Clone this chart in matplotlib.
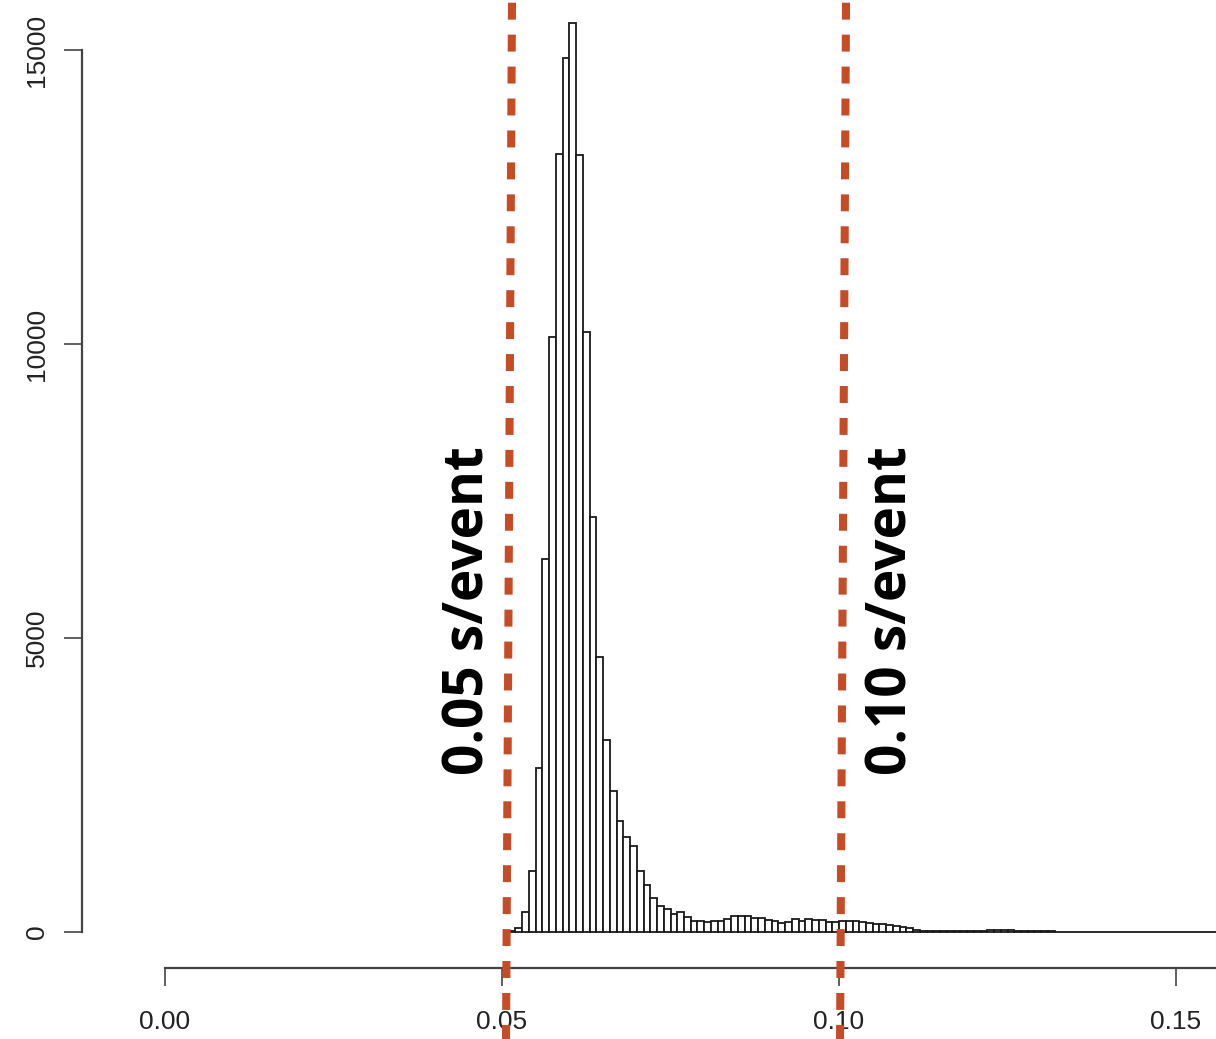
import numpy as np
import matplotlib
matplotlib.use("Agg")
import matplotlib.pyplot as plt

plt.rcParams['lines.scale_dashes'] = False

# histogram counts, bin width 0.001 s, first bin starts at 0.051 s
bin_width = 0.001
bin_start = 0.051
counts = [
    20, 75, 345, 1045, 2790, 6340, 10120, 13230, 14860, 15460,      # 0.051-0.060
    13210, 10200, 7060, 4670, 3260, 2390, 1880, 1610, 1460, 1040,   # 0.061-0.070
    805, 573, 447, 390, 310, 335, 260, 187, 187, 175,               # 0.071-0.080
    187, 190, 221, 272, 277, 277, 233, 233, 204, 187,               # 0.081-0.090
    158, 175, 215, 193, 215, 204, 204, 175, 175, 187,               # 0.091-0.100
    187, 180, 170, 150, 133, 130, 120, 95, 90, 60,                  # 0.101-0.110
    35, 24, 22, 20, 15, 14, 13, 14, 16, 20,                         # 0.111-0.120
    24, 27, 28, 28, 27, 25, 22, 18, 14, 11,                         # 0.121-0.130
    9, 8, 7, 7, 6, 6, 6, 5, 5, 5,                                   # 0.131-0.140
    5, 4, 4, 4, 4, 3, 3, 3, 3, 3,                                   # 0.141-0.150
    3, 2, 2, 2, 2, 2, 2, 2, 2, 2,                                   # 0.151-0.160
]

x_ticks = [0.00, 0.05, 0.10, 0.15]
x_tick_labels = ["0.00", "0.05", "0.10", "0.15"]
y_ticks = [0, 5000, 10000, 15000]
y_tick_labels = ["0", "5000", "10000", "15000"]

# reference lines (slightly tilted in the original: top x, bottom x)
ref_lines = [(0.05148, 0.05059), (0.10104, 0.10015)]
ref_labels = ["0.05 s/event", "0.10 s/event"]
ref_label_x = [0.04505, 0.10785]

edges = bin_start + bin_width * np.arange(len(counts))

fig = plt.figure(figsize=(12.16, 10.39), dpi=100)
ax = fig.add_axes([82 / 1216, 71 / 1039, 1 - 82 / 1216, 1 - 71 / 1039])

ax.bar(edges, counts, width=bin_width, align='edge', facecolor='white',
       edgecolor='#1a1a1a', linewidth=1.3, zorder=2)

ax.set_xlim(-0.012315, 0.15593)
ax.set_ylim(-612, 15850)

for sp in ['top', 'right']:
    ax.spines[sp].set_visible(False)
ax.spines['left'].set_bounds(0, 15000)
ax.spines['bottom'].set_bounds(0, 0.2)
for sp in ['left', 'bottom']:
    ax.spines[sp].set_color('#444444')
    ax.spines[sp].set_linewidth(1.6)

ax.set_xticks(x_ticks)
ax.set_xticklabels(x_tick_labels)
ax.set_yticks(y_ticks)
ax.set_yticklabels(y_tick_labels, rotation=90, va='center')
ax.tick_params(axis='both', direction='out', length=13, width=1.2,
               color='#444444', labelsize=19, labelcolor='#222222')
ax.tick_params(axis='x', pad=17)
ax.tick_params(axis='y', pad=11)
for lab in ax.get_xticklabels() + ax.get_yticklabels():
    lab.set_fontfamily('Liberation Sans')

red = '#C64B27'
for (xt, xb) in ref_lines:
    ax.plot([xt, xb], [15804, -1870], color=red, linewidth=5.8,
            linestyle=(0, (12.2, 10.8)), solid_capstyle='butt',
            dash_capstyle='butt', clip_on=False, zorder=5)

for lx, txt in zip(ref_label_x, ref_labels):
    ax.text(lx, 2670, txt, rotation=90, ha='center', va='bottom',
            fontsize=39.5, fontweight='bold', family='Open Sans',
            color='black', zorder=6)

fig.savefig('out.png', dpi=100)
